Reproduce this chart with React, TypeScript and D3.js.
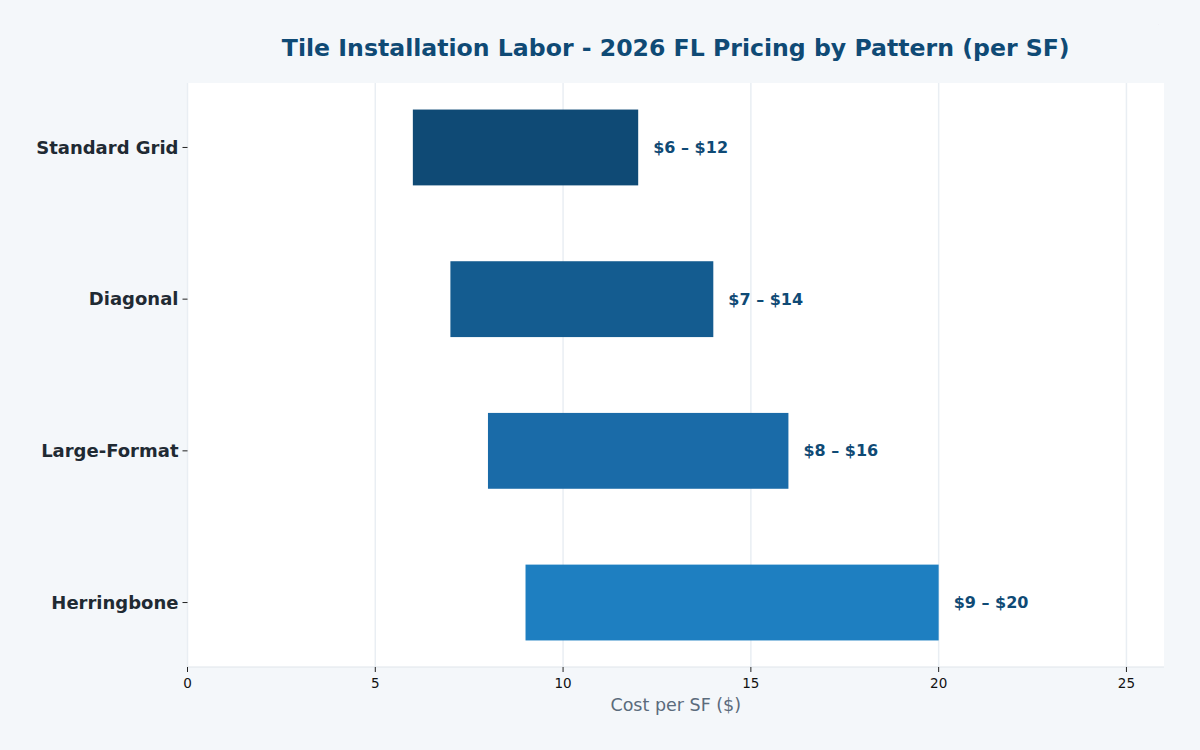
import React, { useRef, useEffect } from "react";
import * as d3 from "d3";

// data
const patterns = ["Standard Grid", "Diagonal", "Large-Format", "Herringbone"];
const lowCost = [6, 7, 8, 9];
const highCost = [12, 14, 16, 20];
const barColors = ["#0f4a75", "#145c90", "#1a6ba8", "#1e7fc1"];
const xTicks = [0, 5, 10, 15, 20, 25];

const W = 1200;
const H = 750;
const m = { left: 187.5, right: 1164, top: 83, bottom: 667 };

export default function App() {
  const svgRef = useRef<SVGSVGElement>(null);

  useEffect(() => {
    const svg = d3.select(svgRef.current);
    svg.selectAll("*").remove();
    const font = "DejaVu Sans, sans-serif";

    // scales
    const x = d3.scaleLinear().domain([0, 26]).range([m.left, m.right]);
    const y = d3.scaleLinear().domain([-0.425, 3.425]).range([m.top, m.bottom]);
    const barH = y(0.25) - y(-0.25);

    svg.append("rect").attr("width", W).attr("height", H).attr("fill", "#f4f7fa");
    svg
      .append("rect")
      .attr("x", m.left)
      .attr("y", m.top)
      .attr("width", m.right - m.left)
      .attr("height", m.bottom - m.top)
      .attr("fill", "#ffffff");

    // grid
    svg
      .selectAll(".grid")
      .data(xTicks)
      .join("line")
      .attr("x1", (d) => x(d))
      .attr("x2", (d) => x(d))
      .attr("y1", m.top)
      .attr("y2", m.bottom)
      .attr("stroke", "#e9eef3")
      .attr("stroke-width", 1.5);

    // bars
    svg
      .selectAll(".bar")
      .data(patterns)
      .join("rect")
      .attr("x", (d, i) => x(lowCost[i]))
      .attr("y", (d, i) => y(i) - barH / 2)
      .attr("width", (d, i) => x(highCost[i]) - x(lowCost[i]))
      .attr("height", barH)
      .attr("fill", (d, i) => barColors[i]);

    // value labels
    svg
      .selectAll(".lbl")
      .data(patterns)
      .join("text")
      .attr("x", (d, i) => x(highCost[i] + 0.4))
      .attr("y", (d, i) => y(i))
      .attr("dy", "0.35em")
      .attr("font-family", font)
      .attr("font-weight", "bold")
      .attr("font-size", 16)
      .attr("fill", "#0f4a75")
      .text((d, i) => `$${lowCost[i]} – $${highCost[i]}`);

    // bottom spine
    svg
      .append("line")
      .attr("x1", m.left)
      .attr("x2", m.right)
      .attr("y1", m.bottom)
      .attr("y2", m.bottom)
      .attr("stroke", "#dfe5ea")
      .attr("stroke-width", 1);

    // x axis
    const xAxis = svg.append("g");
    xTicks.forEach((t) => {
      xAxis
        .append("line")
        .attr("x1", x(t))
        .attr("x2", x(t))
        .attr("y1", m.bottom)
        .attr("y2", m.bottom + 5)
        .attr("stroke", "#222")
        .attr("stroke-width", 1);
      xAxis
        .append("text")
        .attr("x", x(t))
        .attr("y", m.bottom + 21)
        .attr("text-anchor", "middle")
        .attr("font-family", font)
        .attr("font-size", 13.5)
        .attr("fill", "#111")
        .text(t);
    });

    // y axis
    const yAxis = svg.append("g");
    patterns.forEach((p, i) => {
      yAxis
        .append("line")
        .attr("x1", m.left - 5)
        .attr("x2", m.left)
        .attr("y1", y(i))
        .attr("y2", y(i))
        .attr("stroke", "#222")
        .attr("stroke-width", 1);
      yAxis
        .append("text")
        .attr("x", m.left - 9)
        .attr("y", y(i))
        .attr("dy", "0.35em")
        .attr("text-anchor", "end")
        .attr("font-family", font)
        .attr("font-weight", "bold")
        .attr("font-size", 18)
        .attr("fill", "#1f2a33")
        .text(p);
    });

    // axis title
    svg
      .append("text")
      .attr("x", (m.left + m.right) / 2)
      .attr("y", 711)
      .attr("text-anchor", "middle")
      .attr("font-family", font)
      .attr("font-size", 17.5)
      .attr("fill", "#5b6b7c")
      .text("Cost per SF ($)");

    // title
    svg
      .append("text")
      .attr("x", (m.left + m.right) / 2)
      .attr("y", 56)
      .attr("text-anchor", "middle")
      .attr("font-family", font)
      .attr("font-weight", "bold")
      .attr("font-size", 23.6)
      .attr("fill", "#0f4a75")
      .text("Tile Installation Labor - 2026 FL Pricing by Pattern (per SF)");

    svg
      .append("text")
      .attr("x", 1158)
      .attr("y", 25)
      .attr("font-family", font)
      .attr("font-size", 3)
      .attr("fill", "#9aa4ad")
      .text(".");
  }, []);

  return (
    <svg
      ref={svgRef}
      width={W}
      height={H}
      style={{ position: "absolute", left: 0, top: 0, display: "block" }}
    />
  );
}
